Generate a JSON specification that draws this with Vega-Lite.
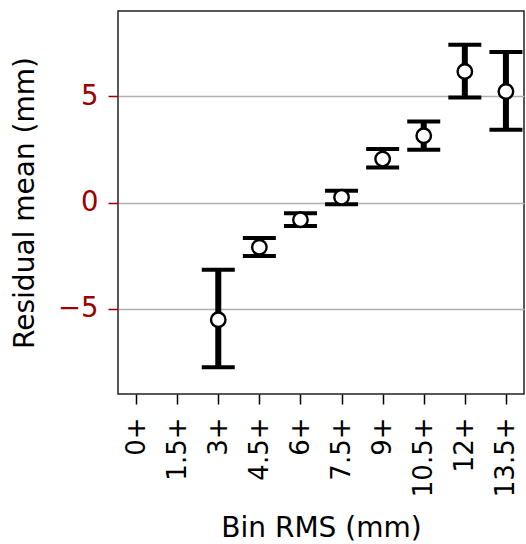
{
  "$schema": "https://vega.github.io/schema/vega-lite/v6.json",
  "width": 406,
  "height": 383,
  "autosize": {"type": "none"},
  "padding": {"left": 118, "top": 11, "right": 2, "bottom": 150},
  "background": "white",
  "config": {
    "font": "DejaVu Sans",
    "view": {"stroke": "#222222", "strokeWidth": 1.5},
    "axis": {"labelFont": "DejaVu Sans", "titleFont": "DejaVu Sans", "titleFontWeight": "normal"}
  },
  "data": {
    "values": [
      {"bin": "3+", "mean": -5.51, "lo": -7.74, "hi": -3.16},
      {"bin": "4.5+", "mean": -2.1, "lo": -2.51, "hi": -1.67},
      {"bin": "6+", "mean": -0.81, "lo": -1.1, "hi": -0.5},
      {"bin": "7.5+", "mean": 0.25, "lo": -0.08, "hi": 0.55},
      {"bin": "9+", "mean": 2.04, "lo": 1.65, "hi": 2.51},
      {"bin": "10.5+", "mean": 3.14, "lo": 2.48, "hi": 3.81},
      {"bin": "12+", "mean": 6.16, "lo": 4.94, "hi": 7.41},
      {"bin": "13.5+", "mean": 5.22, "lo": 3.42, "hi": 7.07}
    ]
  },
  "encoding": {
    "x": {
      "field": "bin",
      "type": "ordinal",
      "scale": {
        "type": "point",
        "padding": 0.44,
        "domain": ["0+", "1.5+", "3+", "4.5+", "6+", "7.5+", "9+", "10.5+", "12+", "13.5+"]
      },
      "axis": {
        "title": "Bin RMS (mm)",
        "titleFontSize": 28,
        "titleColor": "black",
        "titlePadding": 18,
        "labelFontSize": 26,
        "labelColor": "black",
        "labelAngle": -90,
        "labelPadding": 13,
        "tickColor": "black",
        "tickSize": 10,
        "tickWidth": 1.5,
        "domain": false,
        "grid": false
      }
    }
  },
  "layer": [
    {
      "mark": {"type": "rule", "color": "black", "strokeWidth": 6},
      "encoding": {
        "y": {
          "field": "lo",
          "type": "quantitative",
          "scale": {"domain": [-9, 9], "nice": false, "zero": false},
          "axis": {
            "title": "Residual mean (mm)",
            "titleFontSize": 28,
            "titleColor": "black",
            "titlePadding": 18,
            "values": [-5, 0, 5],
            "labelExpr": "replace(datum.label, '-', '\u2212')",
            "labelFontSize": 27.5,
            "labelColor": "#990000",
            "labelPadding": 10,
            "tickColor": "#990000",
            "tickSize": 10,
            "tickWidth": 1.5,
            "domain": false,
            "grid": true,
            "gridColor": "#b0b0b0",
            "gridWidth": 1.5
          }
        },
        "y2": {"field": "hi"}
      }
    },
    {
      "mark": {"type": "tick", "color": "black", "thickness": 4, "size": 33, "opacity": 1},
      "encoding": {"y": {"field": "lo", "type": "quantitative"}}
    },
    {
      "mark": {"type": "tick", "color": "black", "thickness": 4, "size": 33, "opacity": 1},
      "encoding": {"y": {"field": "hi", "type": "quantitative"}}
    },
    {
      "mark": {"type": "point", "shape": "circle", "filled": true, "fill": "white", "stroke": "black", "strokeWidth": 2.4, "size": 210, "opacity": 1},
      "encoding": {"y": {"field": "mean", "type": "quantitative"}}
    }
  ]
}
